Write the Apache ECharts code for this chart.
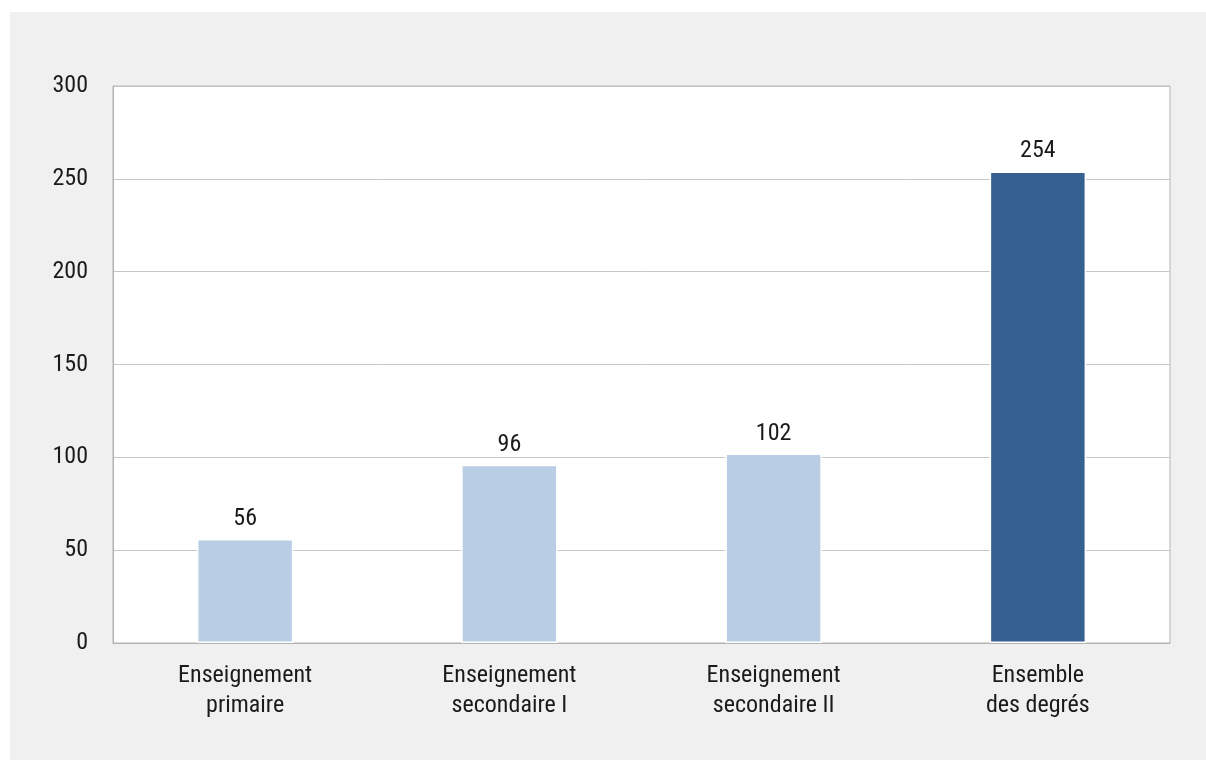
<!DOCTYPE html>
<html><head><meta charset="utf-8">
<script src="https://cdn.jsdelivr.net/npm/echarts@6/dist/echarts.min.js"></script>
<style>
html,body{margin:0;padding:0;background:#fff;}
#c{position:absolute;left:10px;top:12px;width:1196px;height:748px;background:#f0f0f0;}
</style></head><body>
<div id="c"></div>
<script>
const categories = ['Enseignement\nprimaire', 'Enseignement\nsecondaire I', 'Enseignement\nsecondaire II', 'Ensemble\ndes degrés'];
const values = [56, 96, 102, 254];
const barColors = ['#b9cde5', '#b9cde5', '#b9cde5', '#36608f'];
const yTicks = [0, 50, 100, 150, 200, 250, 300];

const FONT = "'Liberation Sans Narrow', 'Arial Narrow', 'Roboto Condensed', 'Liberation Sans', sans-serif";
const chart = echarts.init(document.getElementById('c'));
chart.setOption({
  backgroundColor: '#f0f0f0',
  animation: false,
  grid: { left: 103, top: 74, right: 36, bottom: 117, show: true, backgroundColor: '#ffffff', borderColor: '#b3b3b3', borderWidth: 1, containLabel: false },
  xAxis: {
    type: 'category', data: categories,
    axisTick: { show: false },
    axisLine: { show: true, lineStyle: { color: '#b3b3b3', width: 1 } },
    axisLabel: { color: '#1a1a1a', fontFamily: FONT, fontSize: 24, lineHeight: 30, margin: 18 }
  },
  yAxis: {
    type: 'value', min: 0, max: 300, interval: 50,
    axisLine: { show: true, lineStyle: { color: '#b3b3b3' } },
    axisTick: { show: false },
    splitLine: { lineStyle: { color: '#c6c6c6', width: 1 } },
    axisLabel: { color: '#1a1a1a', fontFamily: FONT, fontSize: 24, margin: 25,
      formatter: v => yTicks.includes(v) ? String(v) : '' }
  },
  series: [{
    type: 'bar', barWidth: '36.5%',
    data: values.map((v, i) => ({ value: v, itemStyle: { color: barColors[i] } })),
    itemStyle: { borderColor: '#ffffff', borderWidth: 1.5 },
    label: { show: true, position: 'top', distance: 8, color: '#1a1a1a', fontFamily: FONT, fontSize: 24 }
  }]
});
</script>
</body></html>
